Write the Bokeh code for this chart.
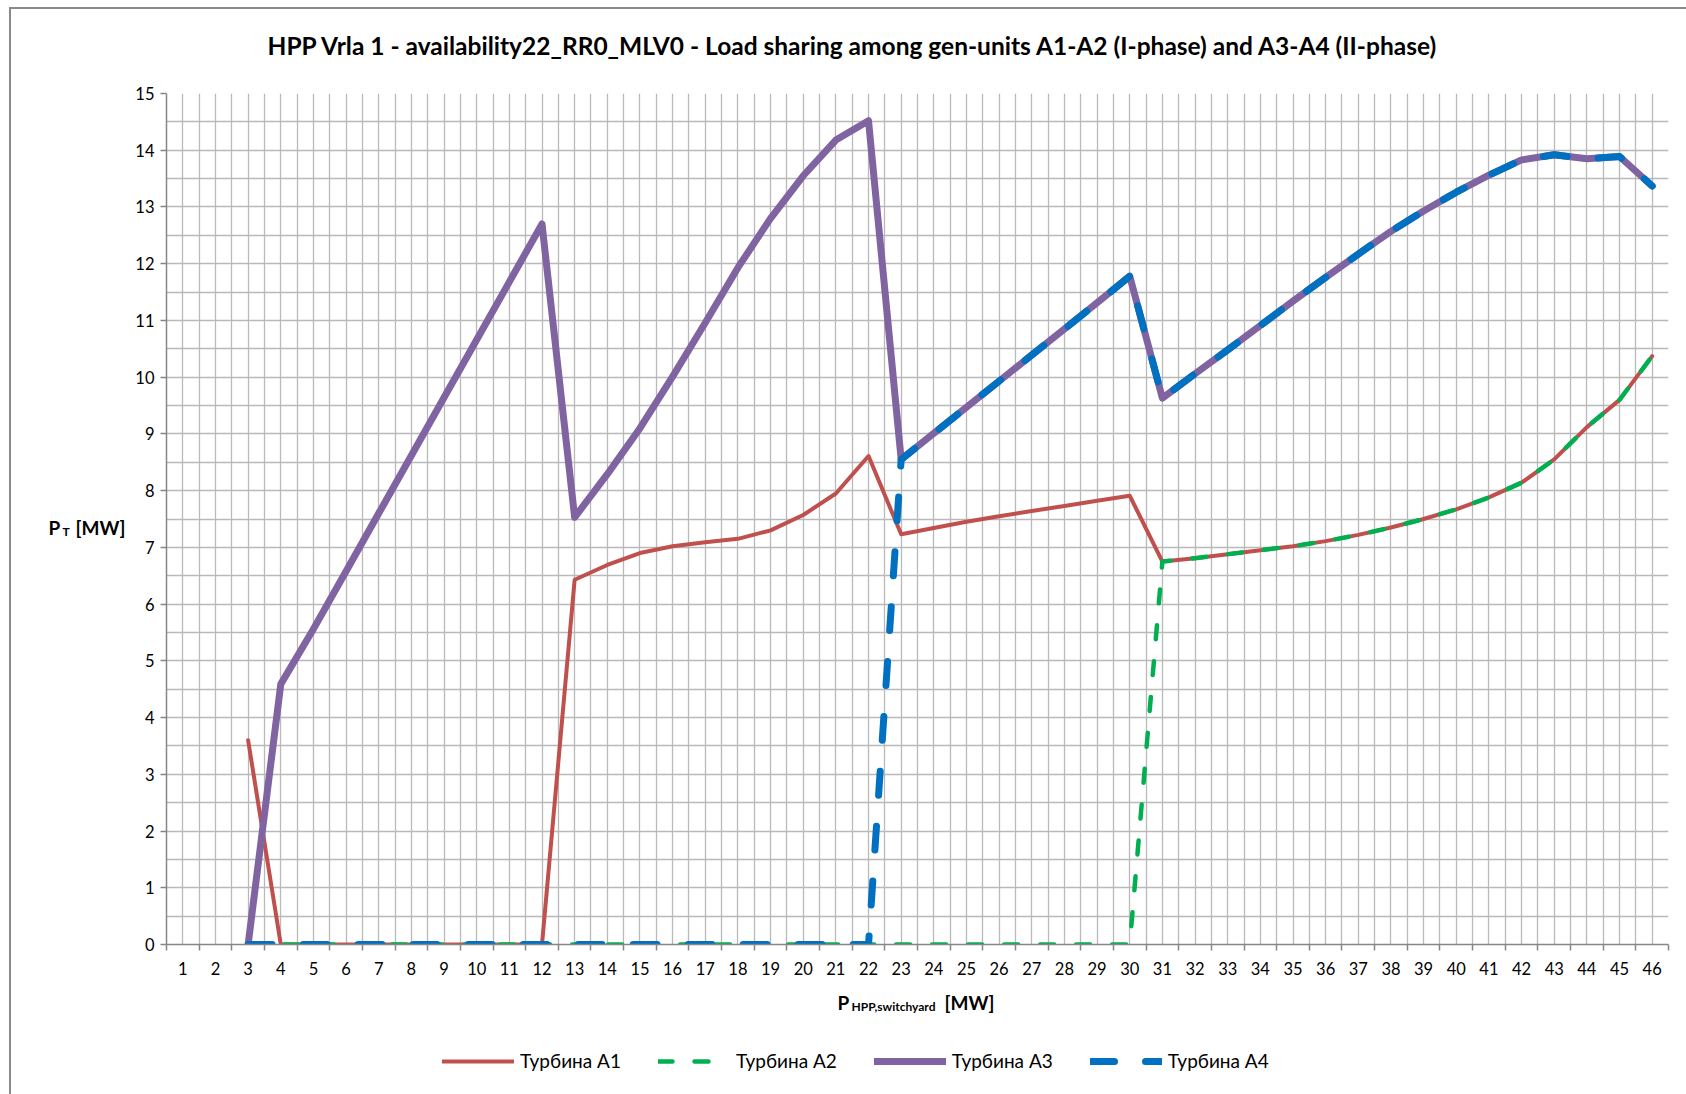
from bokeh.plotting import figure
from bokeh.layouts import column
from bokeh.models import Range1d, FixedTicker, Label, Legend, LegendItem
from bokeh.embed import file_html
from bokeh.resources import INLINE

# ---- data -----------------------------------------------------------------
categories = list(range(1, 47))            # P_HPP,switchyard [MW] categories
p_switchyard = list(range(3, 47))          # points with computed load sharing

turbina_a1 = [3.6, 0, 0, 0, 0, 0, 0, 0, 0, 0,
              6.43, 6.69, 6.9, 7.02, 7.09, 7.15, 7.3, 7.57, 7.95, 8.61,
              7.23, 7.34, 7.45, 7.55, 7.64, 7.73, 7.82, 7.91,
              6.75, 6.81, 6.88, 6.95, 7.02, 7.11, 7.22, 7.35, 7.5, 7.67,
              7.88, 8.14, 8.55, 9.12, 9.6, 10.37]
turbina_a2 = [0, 0, 0, 0, 0, 0, 0, 0, 0, 0,
              0, 0, 0, 0, 0, 0, 0, 0, 0, 0,
              0, 0, 0, 0, 0, 0, 0, 0,
              6.75, 6.81, 6.88, 6.95, 7.02, 7.11, 7.22, 7.35, 7.5, 7.67,
              7.88, 8.14, 8.55, 9.12, 9.6, 10.37]
turbina_a3 = [0, 4.59, 5.56, 6.58, 7.6, 8.62, 9.64, 10.66, 11.68, 12.7,
              7.53, 8.29, 9.1, 10.01, 10.96, 11.93, 12.8, 13.55, 14.18, 14.52,
              8.55, 9.01, 9.47, 9.93, 10.39, 10.85, 11.31, 11.78,
              9.63, 10.06, 10.48, 10.91, 11.34, 11.76, 12.17, 12.57, 12.93,
              13.26, 13.56, 13.83, 13.92, 13.85, 13.89, 13.37]
turbina_a4 = [0, 0, 0, 0, 0, 0, 0, 0, 0, 0,
              0, 0, 0, 0, 0, 0, 0, 0, 0, 0,
              8.55, 9.01, 9.47, 9.93, 10.39, 10.85, 11.31, 11.78,
              9.63, 10.06, 10.48, 10.91, 11.34, 11.76, 12.17, 12.57, 12.93,
              13.26, 13.56, 13.83, 13.92, 13.85, 13.89, 13.37]
series_names = ["Турбина А1", "Турбина А2", "Турбина А3", "Турбина А4"]
y_ticks = list(range(0, 16))

TITLE = ("HPP Vrla 1 - availability22_RR0_MLV0 - Load sharing among "
         "gen-units A1-A2 (I-phase) and A3-A4 (II-phase)")

FONT = "Lato"
GRID = "#b9b9b9"
AXIS = "#868686"

# series styling: colour, width, dash
STYLES = [dict(line_color="#c0504d", line_width=4),
          dict(line_color="#00b050", line_width=4.5, line_dash="14 22"),
          dict(line_color="#8064a2", line_width=7),
          dict(line_color="#0070c0", line_width=7, line_dash="24 31")]
SERIES = [turbina_a1, turbina_a2, turbina_a3, turbina_a4]

# ---- page geometry ----------------------------------------------------------
PAGE_W, PAGE_H = 1686, 1094
OX, OY = 11, 9                          # canvas origin on the page (inside border)
FL, FR, FT, FB = 166, 1668, 93, 944     # plot frame edges on the page
XB = 985                                # bottom of the x-axis band

X0, X1 = categories[0] - 0.5, categories[-1] + 0.5
Y0, Y1 = y_ticks[0], y_ticks[-1]


def page_x(px):
    """page pixel column -> x data value"""
    return X0 + (px - FL) * (X1 - X0) / (FR - FL)


def page_y(py):
    """page pixel row -> y data value"""
    return Y0 + (FB - py) * (Y1 - Y0) / (FB - FT)


p = figure(frame_width=FR - FL, frame_height=FB - FT,
           output_backend="svg", toolbar_location=None,
           x_range=Range1d(X0, X1), y_range=Range1d(Y0, Y1),
           min_border_left=FL - OX, min_border_right=PAGE_W - FR,
           min_border_top=FT - OY, min_border_bottom=XB - FB)
p.outline_line_color = None
p.background_fill_color = "white"
p.border_fill_color = "white"

x_ticker = FixedTicker(ticks=categories,
                       minor_ticks=[c - 0.5 for c in categories] + [X1])
y_ticker = FixedTicker(ticks=y_ticks, minor_ticks=[t + 0.5 for t in y_ticks[:-1]])

xa = p.xaxis[0]
xa.ticker = x_ticker
xa.axis_line_color = AXIS
xa.axis_line_width = 1.5
xa.major_tick_line_color = None
xa.major_tick_out = 0
xa.minor_tick_line_color = AXIS
xa.minor_tick_line_width = 1.5
xa.minor_tick_in = 0
xa.minor_tick_out = 6
xa.major_label_standoff = 11
xa.major_label_text_font = FONT
xa.major_label_text_font_size = "16.5px"
xa.major_label_text_color = "black"

ya = p.yaxis[0]
ya.ticker = y_ticker
ya.axis_line_color = AXIS
ya.axis_line_width = 1.5
ya.major_tick_line_color = AXIS
ya.major_tick_line_width = 1.5
ya.major_tick_in = 0
ya.major_tick_out = 6
ya.minor_tick_line_color = None
ya.major_label_standoff = 6
ya.major_label_text_font = FONT
ya.major_label_text_font_size = "16.5px"
ya.major_label_text_color = "black"

for g in (p.xgrid[0], p.ygrid[0]):
    g.grid_line_color = GRID
    g.grid_line_width = 1.3
    g.minor_grid_line_color = GRID
    g.minor_grid_line_width = 1.3
p.xgrid[0].ticker = x_ticker
p.ygrid[0].ticker = y_ticker

# ---- series ---------------------------------------------------------------
for ys, st in zip(SERIES, STYLES):
    p.line(p_switchyard, ys, line_cap="round", line_join="round", **st)


def page_label(side, text, px, py, size, align="left", baseline="alphabetic"):
    p.add_layout(Label(x=page_x(px), y=page_y(py), text=text,
                       text_font=FONT, text_font_size=size,
                       text_font_style="bold", text_color="black",
                       text_align=align, text_baseline=baseline), side)


page_label("above", TITLE, 853, 45, "24.5px", align="center", baseline="middle")

# y-axis title: P_T [MW]
page_label("left", "P", 48, 527, "19px")
page_label("left", "T", 62, 531, "12px")
page_label("left", "[MW]", 75, 527, "19px")

# ---- footer band: x-axis title and legend ------------------------------------
# its frame is aligned under the plot frame, ranges are page pixels
foot = figure(width=PAGE_W - OX, height=PAGE_H - XB,
              output_backend="svg", toolbar_location=None,
              x_range=Range1d(FL, FR), y_range=Range1d(PAGE_H, XB),
              x_axis_type=None, y_axis_type=None, min_border=0)
foot.outline_line_color = None
foot.grid.visible = False
foot.background_fill_color = "white"
foot.border_fill_color = "white"


def foot_label(text, px, py, size):
    foot.add_layout(Label(x=px, y=py, text=text, text_font=FONT,
                          text_font_size=size, text_font_style="bold",
                          text_color="black", text_baseline="alphabetic"))


# x-axis title: P_HPP,switchyard [MW]
foot_label("P", 837, 1002, "19px")
foot_label("HPP,switchyard", 851, 1006, "12px")
foot_label("[MW]", 944, 1002, "19px")

# legend keys: the same series with the same styles (they fall outside this
# band's ranges, so only the legend glyphs show)
keys = [foot.line(p_switchyard, ys, line_cap="round", **st)
        for ys, st in zip(SERIES, STYLES)]
legend = Legend(items=[LegendItem(label=n, renderers=[r])
                       for n, r in zip(series_names, keys)],
                location=(442 - FL, PAGE_H - 1072), orientation="horizontal",
                glyph_width=72, glyph_height=20, label_height=20,
                label_standoff=6, spacing=37, padding=0, margin=0,
                border_line_color=None, background_fill_alpha=0,
                label_text_font=FONT, label_text_font_size="19px",
                label_text_color="black")
foot.add_layout(legend)

# chart-area frame: only its left and top edges fall inside the page
page = column(p, foot, spacing=0,
              styles={"margin-left": f"{OX - 2}px", "margin-top": f"{OY - 2}px",
                      "border-left": "2px solid #8a8a8a",
                      "border-top": "2px solid #8a8a8a"})

open("out.html", "w").write(file_html(page, INLINE))
